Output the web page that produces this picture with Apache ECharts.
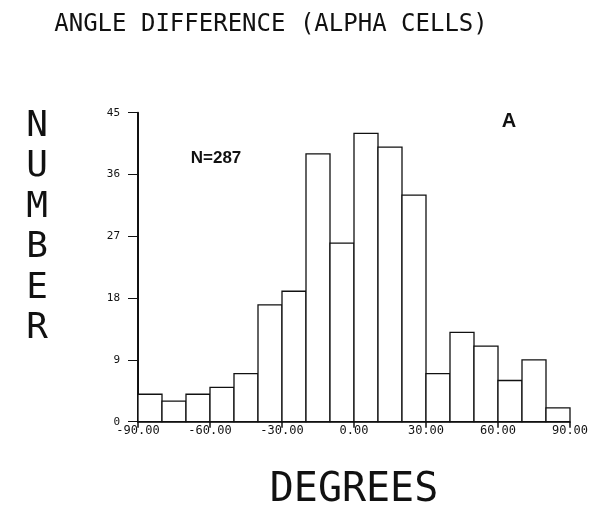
<!DOCTYPE html>
<html>
<head>
<meta charset="utf-8">
<script src="https://cdn.jsdelivr.net/npm/echarts@6/dist/echarts.min.js"></script>
<style>html,body{margin:0;padding:0;background:#fff;}#c{width:600px;height:511px;}</style>
</head>
<body>
<div id="c"></div>
<script>
var binStarts = [-90,-80,-70,-60,-50,-40,-30,-20,-10,0,10,20,30,40,50,60,70,80];
var binWidth = 10;
var counts = [4,3,4,5,7,17,19,39,26,42,40,33,7,13,11,6,9,2];
var xTicks = [-90,-60,-30,0,30,60,90];
var yTicks = [0,9,18,27,36,45];
var titleText = 'ANGLE DIFFERENCE (ALPHA CELLS)';
var yName = 'NUMBER';
var xName = 'DEGREES';
var nText = 'N=287';
var panelText = 'A';

var mono = '"DejaVu Sans Mono", "Liberation Mono", monospace';
var data = binStarts.map(function(s, i){ return [s, s + binWidth, counts[i]]; });

var chart = echarts.init(document.getElementById('c'), null, {renderer: 'canvas'});
chart.setOption({
  backgroundColor: '#fff',
  animation: false,
  title: [
    {text: titleText, left: 266, top: 8, textAlign: 'center',
     textStyle: {fontFamily: mono, fontSize: 24, fontWeight: 'normal', color: '#111'}},
    {text: yName.split('').join('\n'), left: 32, top: 101, textAlign: 'center',
     textStyle: {fontFamily: mono, fontSize: 36, fontWeight: 'normal', color: '#111', lineHeight: 40.5}},
    {text: xName, left: 349, top: 466, textAlign: 'center',
     textStyle: {fontFamily: mono, fontSize: 40, fontWeight: 'normal', color: '#111'}},
    {text: nText, left: 211, top: 145, textAlign: 'center',
     textStyle: {fontFamily: '"Liberation Sans", Arial, sans-serif', fontSize: 17, fontWeight: 'bold', color: '#111'}},
    {text: panelText, left: 504, top: 106, textAlign: 'center',
     textStyle: {fontFamily: '"Liberation Sans", Arial, sans-serif', fontSize: 20, fontWeight: 'bold', color: '#111'}}
  ],
  grid: {left: 138, right: 30, top: 112.7, bottom: 89.3, containLabel: false},
  xAxis: {
    type: 'value', min: xTicks[0], max: xTicks[xTicks.length-1], interval: 30,
    axisLine: {show: true, onZero: false, lineStyle: {color: '#111', width: 1.5}},
    axisTick: {show: true, length: 6, lineStyle: {color: '#111', width: 1.5}},
    splitLine: {show: false},
    axisLabel: {margin: 3, fontFamily: mono, fontSize: 12, color: '#111',
      formatter: function(v){ return v.toFixed(2); }}
  },
  yAxis: {
    type: 'value', min: yTicks[0], max: yTicks[yTicks.length-1], interval: 9,
    axisLine: {show: true, onZero: false, lineStyle: {color: '#111', width: 2}},
    axisTick: {show: true, length: 10, lineStyle: {color: '#111', width: 1}},
    splitLine: {show: false},
    axisLabel: {margin: 18, fontFamily: mono, fontSize: 11, color: '#111'}
  },
  series: [{
    type: 'custom',
    data: data,
    encode: {x: [0, 1], y: 2},
    renderItem: function(params, api){
      var p0 = api.coord([api.value(0), api.value(2)]);
      var p1 = api.coord([api.value(1), 0]);
      return {
        type: 'rect',
        shape: {x: p0[0], y: p0[1], width: p1[0] - p0[0], height: p1[1] - p0[1]},
        style: {fill: '#fff', stroke: '#111', lineWidth: 1.3}
      };
    }
  }]
});
</script>
</body>
</html>
